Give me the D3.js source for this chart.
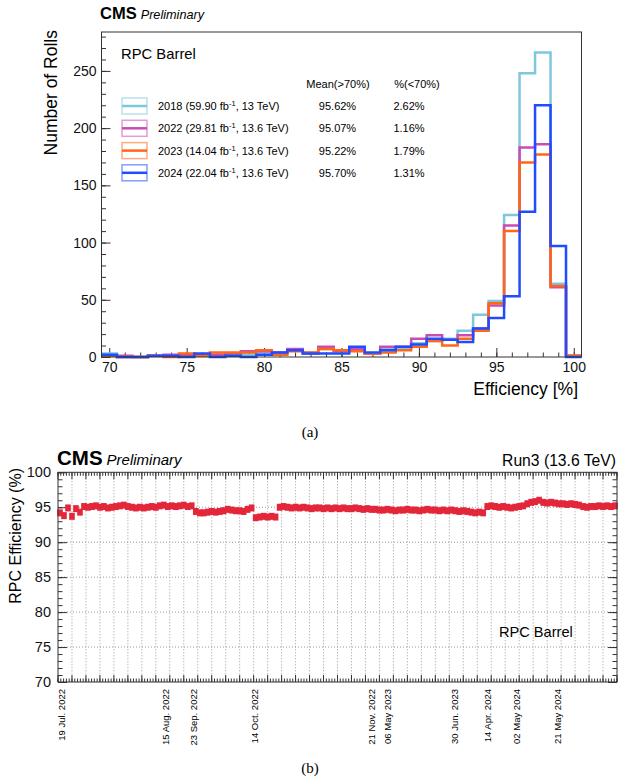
<!DOCTYPE html>
<html>
<head>
<meta charset="utf-8">
<script src="https://cdn.jsdelivr.net/npm/d3@7"></script>
<style>
  body { margin: 0; background: #fff; }
  svg { display: block; font-family: "Liberation Sans", Arial, Helvetica, sans-serif; }
</style>
</head>
<body>
<div id="chart"></div>
<script>
/* (a) efficiency histogram: bin centres, 1% wide */
const effBins = [70, 71, 72, 73, 74, 75, 76, 77, 78, 79, 80, 81, 82, 83, 84, 85,
                 86, 87, 88, 89, 90, 91, 92, 93, 94, 95, 96, 97, 98, 99, 100];

/* number of rolls per bin */
const rolls2018 = [3, 0, 0, 1, 1, 1, 2, 1, 2, 2, 4, 3, 6, 4, 7, 6, 7, 3, 7, 8, 12, 14, 16, 23, 37, 49, 124, 248, 266, 64, 1];
const rolls2022 = [1, 1, 0, 1, 2, 2, 2, 2, 3, 5, 5, 4, 7, 3, 9, 5, 7, 3, 9, 9, 16, 19, 15, 19, 25, 45, 115, 183, 186, 61, 1];
const rolls2023 = [1, 0, 0, 1, 0, 3, 1, 4, 4, 4, 6, 2, 5, 4, 7, 6, 5, 3, 4, 6, 9, 14, 10, 16, 23, 47, 110, 170, 177, 62, 1];
const rolls2024 = [2, 0, 0, 1, 1, 0, 3, 0, 1, 0, 2, 4, 6, 3, 3, 3, 9, 4, 6, 9, 11, 16, 15, 13, 25, 34, 53, 127, 220, 97, 0];

const yearNames  = ["2018", "2022", "2023", "2024"];
const lumis      = ["59.90", "29.81", "14.04", "22.04"];
const energies   = ["13 TeV", "13.6 TeV", "13.6 TeV", "13.6 TeV"];
const meanAbove  = ["95.62%", "95.07%", "95.22%", "95.70%"];
const fracBelow  = ["2.62%", "1.16%", "1.79%", "1.31%"];
const yearColors = ["#7ec8de", "#c94cb6", "#ff6616", "#1f4cff"];

/* (b) RPC barrel efficiency vs run, one value per point */
const effRun3 = [
  94.2, 93.8, 94.9, 93.7, 94.8, 94.3, 95.1, 95.0, 95.1, 95.2,
  95.0, 95.1, 94.9, 95.0, 95.1, 95.2, 95.3, 95.1, 95.0, 94.9,
  95.0, 94.9, 95.0, 95.1, 95.0, 95.2, 95.3, 95.1, 95.2, 95.1,
  95.2, 95.3, 95.1, 95.2, 94.4, 94.2, 94.2, 94.3, 94.4, 94.3,
  94.4, 94.5, 94.7, 94.6, 94.5, 94.5, 94.4, 94.7, 94.9, 93.5,
  93.6, 93.7, 93.6, 93.7, 93.6, 95.0, 95.1, 95.0, 94.9, 95.0,
  94.9, 95.0, 94.9, 94.8, 94.9, 94.9, 94.8, 94.9, 94.8, 94.9,
  94.8, 94.9, 94.8, 94.8, 94.9, 94.8, 94.7, 94.8, 94.7, 94.7,
  94.6, 94.6, 94.7, 94.6, 94.5, 94.6, 94.6, 94.7, 94.6, 94.6,
  94.5, 94.6, 94.7, 94.6, 94.6, 94.5, 94.6, 94.5, 94.6, 94.5,
  94.4, 94.5, 94.4, 94.3, 94.2, 94.3, 94.2, 95.1, 95.2, 95.1,
  95.0, 95.1, 95.0, 94.9, 95.0, 95.1, 95.2, 95.5, 95.7, 95.8,
  96.0, 95.7, 95.6, 95.7, 95.6, 95.5, 95.5, 95.4, 95.5, 95.4,
  95.3, 95.1, 95.0, 95.1, 95.1, 95.2, 95.1, 95.2, 95.1, 95.2
];

/* date labels and the point index they sit on */
const dateLabels = ["19 Jul. 2022", "15 Aug. 2022", "23 Sep. 2022", "14 Oct. 2022", "21 Nov. 2022",
                    "06 May 2023", "30 Jun. 2023", "14 Apr. 2024", "02 May 2024", "21 May 2024"];
const datePos = [1.0, 26.8, 33.9, 49.1, 78.5, 82.6, 99.2, 107.5, 114.9, 125.2];

const width = 619, height = 780;
const svg = d3.select("#chart").append("svg")
  .attr("width", width)
  .attr("height", height);

const frameColor = "#333";

/* ---------------- panel (a) ---------------- */
const A = { left: 101.5, right: 581.5, top: 32, bottom: 357 };

const xA = d3.scaleLinear().domain([69.5, 100.5]).range([A.left, A.right]);
const yA = d3.scaleLinear().domain([0, 284]).range([A.bottom, A.top]);

const gA = svg.append("g");

/* minor ticks */
gA.append("g")
  .attr("transform", `translate(${A.left},0)`)
  .call(d3.axisLeft(yA).tickValues(d3.range(0, 281, 10)).tickSize(-4.5).tickFormat(""))
  .call(g => g.select(".domain").remove());
gA.append("g")
  .attr("transform", `translate(0,${A.bottom})`)
  .call(d3.axisBottom(xA).tickValues(d3.range(70, 101, 1)).tickSize(-4.5).tickFormat(""))
  .call(g => g.select(".domain").remove());

/* major ticks + labels */
gA.append("g")
  .attr("transform", `translate(${A.left},0)`)
  .call(d3.axisLeft(yA).tickValues([0, 50, 100, 150, 200, 250]).tickSize(-9).tickPadding(5))
  .call(g => g.select(".domain").remove())
  .call(g => g.selectAll("text").attr("font-size", 14).attr("fill", "#111").attr("font-family", "Liberation Sans, Arial, sans-serif"));
gA.append("g")
  .attr("transform", `translate(0,${A.bottom})`)
  .call(d3.axisBottom(xA).tickValues([70, 75, 80, 85, 90, 95, 100]).tickSize(-9).tickPadding(5))
  .call(g => g.select(".domain").remove())
  .call(g => g.selectAll("text").attr("font-size", 14).attr("fill", "#111").attr("font-family", "Liberation Sans, Arial, sans-serif"));

gA.selectAll(".tick line").attr("stroke", frameColor);

/* histograms */
const stepLine = d3.line()
  .x(d => xA(d[0]))
  .y(d => yA(d[1]))
  .curve(d3.curveStepAfter);

const allRolls = [rolls2018, rolls2022, rolls2023, rolls2024];
allRolls.forEach((vals, k) => {
  const pts = effBins.map((c, i) => [c - 0.5, vals[i]]);
  pts.push([effBins[effBins.length - 1] + 0.5, vals[vals.length - 1]]);
  gA.append("path")
    .attr("d", stepLine(pts))
    .attr("fill", "none")
    .attr("stroke", yearColors[k])
    .attr("stroke-width", 2.5);
});

/* frame */
gA.append("rect")
  .attr("x", A.left).attr("y", A.top)
  .attr("width", A.right - A.left).attr("height", A.bottom - A.top)
  .attr("fill", "none").attr("stroke", frameColor).attr("stroke-width", 1);

/* titles */
gA.append("text")
  .attr("transform", `translate(57,30) rotate(-90)`)
  .attr("text-anchor", "end")
  .attr("font-size", 17.5)
  .text("Number of Rolls");
gA.append("text")
  .attr("x", 578).attr("y", 395)
  .attr("text-anchor", "end")
  .attr("font-size", 17.5)
  .text("Efficiency [%]");

const cmsA = gA.append("text").attr("x", 100).attr("y", 18.5);
cmsA.append("tspan").attr("font-weight", "bold").attr("font-size", 16.5).text("CMS");
cmsA.append("tspan").attr("font-style", "italic").attr("font-size", 12.7).attr("dx", 4).text("Preliminary");

/* legend */
gA.append("text")
  .attr("x", 121).attr("y", 58.5)
  .attr("font-size", 14.8)
  .text("RPC Barrel");
gA.append("text")
  .attr("x", 338).attr("y", 88)
  .attr("text-anchor", "middle")
  .attr("font-size", 11)
  .text("Mean(>70%)");
gA.append("text")
  .attr("x", 417).attr("y", 88)
  .attr("text-anchor", "middle")
  .attr("font-size", 11)
  .text("%(<70%)");

const rowY = [106, 128.3, 150.6, 172.8];
yearNames.forEach((name, k) => {
  const cy = rowY[k];
  gA.append("rect")
    .attr("x", 122).attr("y", cy - 8)
    .attr("width", 25).attr("height", 16)
    .attr("fill", "#fff")
    .attr("stroke", yearColors[k]).attr("stroke-opacity", 0.55).attr("stroke-width", 1.5);
  gA.append("line")
    .attr("x1", 122).attr("x2", 147)
    .attr("y1", cy).attr("y2", cy)
    .attr("stroke", yearColors[k]).attr("stroke-width", 2.5);
  const t = gA.append("text").attr("x", 158).attr("y", cy + 4).attr("font-size", 11);
  t.append("tspan").text(`${name} (${lumis[k]} fb`);
  t.append("tspan").attr("font-size", 7.5).attr("dy", -4).text("-1");
  t.append("tspan").attr("dy", 4).text(`, ${energies[k]})`);
  gA.append("text")
    .attr("x", 337.5).attr("y", cy + 4)
    .attr("text-anchor", "middle").attr("font-size", 11)
    .text(meanAbove[k]);
  gA.append("text")
    .attr("x", 409).attr("y", cy + 4)
    .attr("text-anchor", "middle").attr("font-size", 11)
    .text(fracBelow[k]);
});

/* caption */
svg.append("text")
  .attr("x", 310).attr("y", 437)
  .attr("text-anchor", "middle")
  .attr("font-family", "Liberation Serif, Times New Roman, serif")
  .attr("font-size", 15)
  .text("(a)");

/* ---------------- panel (b) ---------------- */
const B = { left: 58, right: 617, top: 472.3, bottom: 682 };

const xB = d3.scaleLinear().domain([0, effRun3.length]).range([B.left, B.right]);
const yB = d3.scaleLinear().domain([70, 100]).range([B.bottom, B.top]);

const gB = svg.append("g");

const xPrimary = d3.range(0, effRun3.length + 0.01, 3.5);
const xSecondary = d3.range(0, effRun3.length + 0.01, 0.7);

/* grid */
gB.append("g")
  .selectAll("line")
  .data([75, 80, 85, 90, 95])
  .join("line")
    .attr("x1", B.left).attr("x2", B.right)
    .attr("y1", d => yB(d)).attr("y2", d => yB(d))
    .attr("stroke", "#9a9a9a").attr("stroke-width", 1).attr("stroke-dasharray", "1,2");
gB.append("g")
  .selectAll("line")
  .data(xPrimary.slice(1, -1))
  .join("line")
    .attr("x1", d => xB(d)).attr("x2", d => xB(d))
    .attr("y1", B.top).attr("y2", B.bottom)
    .attr("stroke", "#9a9a9a").attr("stroke-width", 1).attr("stroke-dasharray", "1,2");

/* ticks on all four sides */
const tickGroup = gB.append("g").attr("stroke", frameColor).attr("stroke-width", 1);
[[xSecondary, 3.5], [xPrimary, 7]].forEach(([vals, len]) => {
  tickGroup.append("g").selectAll("line").data(vals).join("line")
    .attr("x1", d => xB(d)).attr("x2", d => xB(d))
    .attr("y1", B.bottom).attr("y2", B.bottom - len);
  tickGroup.append("g").selectAll("line").data(vals).join("line")
    .attr("x1", d => xB(d)).attr("x2", d => xB(d))
    .attr("y1", B.top).attr("y2", B.top + len);
});
gB.append("g")
  .attr("transform", `translate(${B.left},0)`)
  .call(d3.axisLeft(yB).tickValues(d3.range(70, 100.1, 1)).tickSize(-4.5).tickFormat(""))
  .call(g => g.select(".domain").remove());
gB.append("g")
  .attr("transform", `translate(${B.right},0)`)
  .call(d3.axisRight(yB).tickValues(d3.range(70, 100.1, 1)).tickSize(-4.5).tickFormat(""))
  .call(g => g.select(".domain").remove());
gB.append("g")
  .attr("transform", `translate(${B.right},0)`)
  .call(d3.axisRight(yB).tickValues([70, 75, 80, 85, 90, 95, 100]).tickSize(-9).tickFormat(""))
  .call(g => g.select(".domain").remove());
gB.append("g")
  .attr("transform", `translate(${B.left},0)`)
  .call(d3.axisLeft(yB).tickValues([70, 75, 80, 85, 90, 95, 100]).tickSize(-9).tickPadding(7))
  .call(g => g.select(".domain").remove())
  .call(g => g.selectAll("text").attr("font-size", 14.5).attr("fill", "#111").attr("font-family", "Liberation Sans, Arial, sans-serif"));
gB.selectAll(".tick line").attr("stroke", frameColor);

/* data markers */
gB.append("g")
  .selectAll("rect")
  .data(effRun3)
  .join("rect")
    .attr("x", (d, i) => xB(i + 0.5) - 2.8)
    .attr("y", d => yB(d) - 3.5)
    .attr("width", 5.6)
    .attr("height", 7)
    .attr("fill", "#e3263a");

/* frame */
gB.append("rect")
  .attr("x", B.left).attr("y", B.top)
  .attr("width", B.right - B.left).attr("height", B.bottom - B.top)
  .attr("fill", "none").attr("stroke", frameColor).attr("stroke-width", 1);

/* date labels */
gB.append("g")
  .selectAll("text")
  .data(dateLabels)
  .join("text")
    .attr("transform", (d, i) => `translate(${xB(datePos[i]) + 3.5},689) rotate(-90)`)
    .attr("text-anchor", "end")
    .attr("font-size", 9.5)
    .text(d => d);

/* titles */
gB.append("text")
  .attr("transform", `translate(21,468) rotate(-90)`)
  .attr("text-anchor", "end")
  .attr("font-size", 16)
  .text("RPC Efficiency (%)");

const cmsB = gB.append("text").attr("x", 57).attr("y", 465);
cmsB.append("tspan").attr("font-weight", "bold").attr("font-size", 20.5).text("CMS");
cmsB.append("tspan").attr("font-style", "italic").attr("font-size", 15).attr("dx", 4).text("Preliminary");

gB.append("text")
  .attr("x", 616).attr("y", 466)
  .attr("text-anchor", "end")
  .attr("font-size", 15.7)
  .text("Run3 (13.6 TeV)");

gB.append("text")
  .attr("x", 499).attr("y", 637)
  .attr("font-size", 14.6)
  .text("RPC Barrel");

/* caption */
svg.append("text")
  .attr("x", 310).attr("y", 773)
  .attr("text-anchor", "middle")
  .attr("font-family", "Liberation Serif, Times New Roman, serif")
  .attr("font-size", 15)
  .text("(b)");
</script>
</body>
</html>
